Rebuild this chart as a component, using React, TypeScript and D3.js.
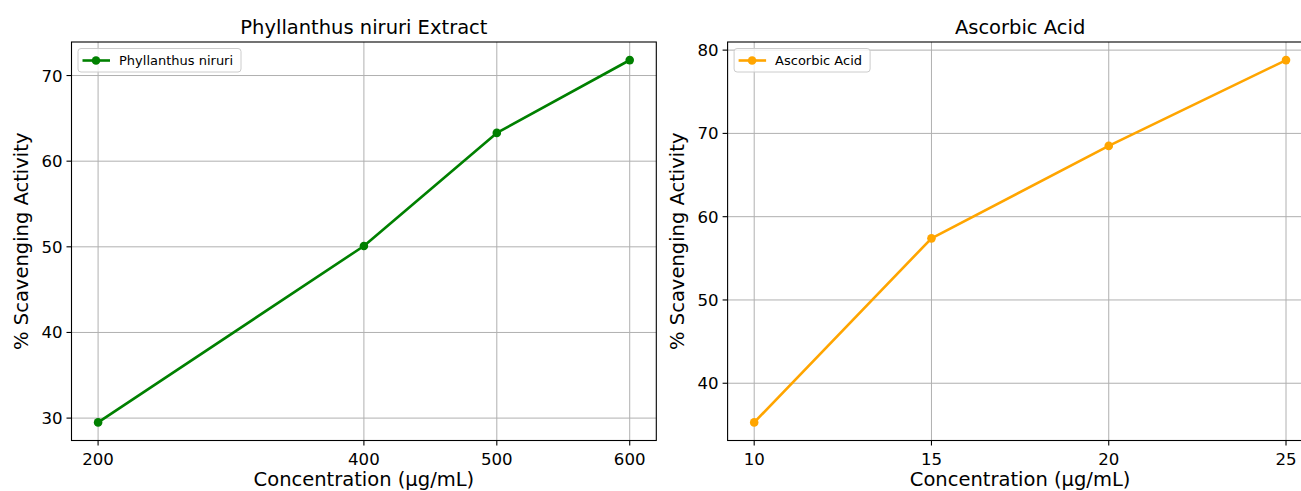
import React from "react";
import * as d3 from "d3";

const pnConc = [200, 400, 500, 600];
const pnActivity = [29.5, 50.1, 63.3, 71.8];
const pnTicksX = [200, 400, 500, 600];
const pnTicksY = [30, 40, 50, 60, 70];

const aaConc = [10, 15, 20, 25];
const aaActivity = [35.3, 57.4, 68.5, 78.8];
const aaTicksX = [10, 15, 20, 25];
const aaTicksY = [40, 50, 60, 70, 80];

const FONT = "'DejaVu Sans', sans-serif";

function pad(vals: number[]): [number, number] {
  const mn = d3.min(vals)!;
  const mx = d3.max(vals)!;
  const r = mx - mn;
  return [mn - 0.05 * r, mx + 0.05 * r];
}

type PanelProps = {
  x0: number; x1: number; y0: number; y1: number;
  xs: number[]; ys: number[]; xt: number[]; yt: number[];
  color: string; title: string; label: string; legendW: number;
};

function Panel(p: PanelProps) {
  const x = d3.scaleLinear().domain(pad(p.xs)).range([p.x0, p.x1]);
  const y = d3.scaleLinear().domain(pad(p.ys)).range([p.y1, p.y0]);
  const line = d3.line<number>().x((_, i) => x(p.xs[i])).y((d) => y(d));
  const cx = (p.x0 + p.x1) / 2;
  const cy = (p.y0 + p.y1) / 2;
  const lx = p.x0 + 6.5;
  const ly = p.y0 + 6.5;
  return (
    <g>
      {p.xt.map((t) => (
        <line key={"gx" + t} x1={x(t)} x2={x(t)} y1={p.y0} y2={p.y1} stroke="#b0b0b0" strokeWidth={1} />
      ))}
      {p.yt.map((t) => (
        <line key={"gy" + t} x1={p.x0} x2={p.x1} y1={y(t)} y2={y(t)} stroke="#b0b0b0" strokeWidth={1} />
      ))}
      <path d={line(p.ys)!} fill="none" stroke={p.color} strokeWidth={2.6} strokeLinejoin="round" strokeLinecap="square" />
      {p.ys.map((v, i) => (
        <circle key={"c" + i} cx={x(p.xs[i])} cy={y(v)} r={4.3} fill={p.color} />
      ))}
      <rect x={p.x0} y={p.y0} width={p.x1 - p.x0} height={p.y1 - p.y0} fill="none" stroke="#000" strokeWidth={1.1} />
      {p.xt.map((t) => (
        <g key={"tx" + t}>
          <line x1={x(t)} x2={x(t)} y1={p.y1} y2={p.y1 + 5} stroke="#000" strokeWidth={1.1} />
          <text x={x(t)} y={p.y1 + 24} textAnchor="middle" fontFamily={FONT} fontSize={16.6} fill="#000">{t}</text>
        </g>
      ))}
      {p.yt.map((t) => (
        <g key={"ty" + t}>
          <line x1={p.x0 - 5} x2={p.x0} y1={y(t)} y2={y(t)} stroke="#000" strokeWidth={1.1} />
          <text x={p.x0 - 9} y={y(t) + 6} textAnchor="end" fontFamily={FONT} fontSize={16.6} fill="#000">{t}</text>
        </g>
      ))}
      <text x={cx} y={p.y0 - 8} textAnchor="middle" fontFamily={FONT} fontSize={19.5} fill="#000">{p.title}</text>
      <text x={cx} y={p.y1 + 45.5} textAnchor="middle" fontFamily={FONT} fontSize={19.5} fill="#000">Concentration (μg/mL)</text>
      <text transform={`translate(${p.x0 - 44},${cy}) rotate(-90)`} textAnchor="middle" fontFamily={FONT} fontSize={19.5} fill="#000">% Scavenging Activity</text>
      <rect x={lx} y={ly} width={p.legendW} height={23.5} rx={3} fill="#fff" fillOpacity={0.8} stroke="#cccccc" strokeWidth={1} />
      <line x1={lx + 4.5} x2={lx + 32} y1={ly + 12} y2={ly + 12} stroke={p.color} strokeWidth={2.6} />
      <circle cx={lx + 18} cy={ly + 12} r={4.3} fill={p.color} />
      <text x={lx + 41} y={ly + 16.5} fontFamily={FONT} fontSize={13} fill="#000">{p.label}</text>
    </g>
  );
}

export default function App() {
  return (
    <svg width={1301} height={491} style={{ position: "absolute", left: 0, top: 0, background: "#fff" }}>
      <rect width={1301} height={491} fill="#fff" />
      <Panel x0={71.5} x1={656.3} y0={42} y1={440.5} xs={pnConc} ys={pnActivity} xt={pnTicksX} yt={pnTicksY}
        color="#008000" title="Phyllanthus niruri Extract" label="Phyllanthus niruri" legendW={163} />
      <Panel x0={727.6} x1={1312.6} y0={42} y1={440.5} xs={aaConc} ys={aaActivity} xt={aaTicksX} yt={aaTicksY}
        color="#FFA500" title="Ascorbic Acid" label="Ascorbic Acid" legendW={136} />
    </svg>
  );
}
